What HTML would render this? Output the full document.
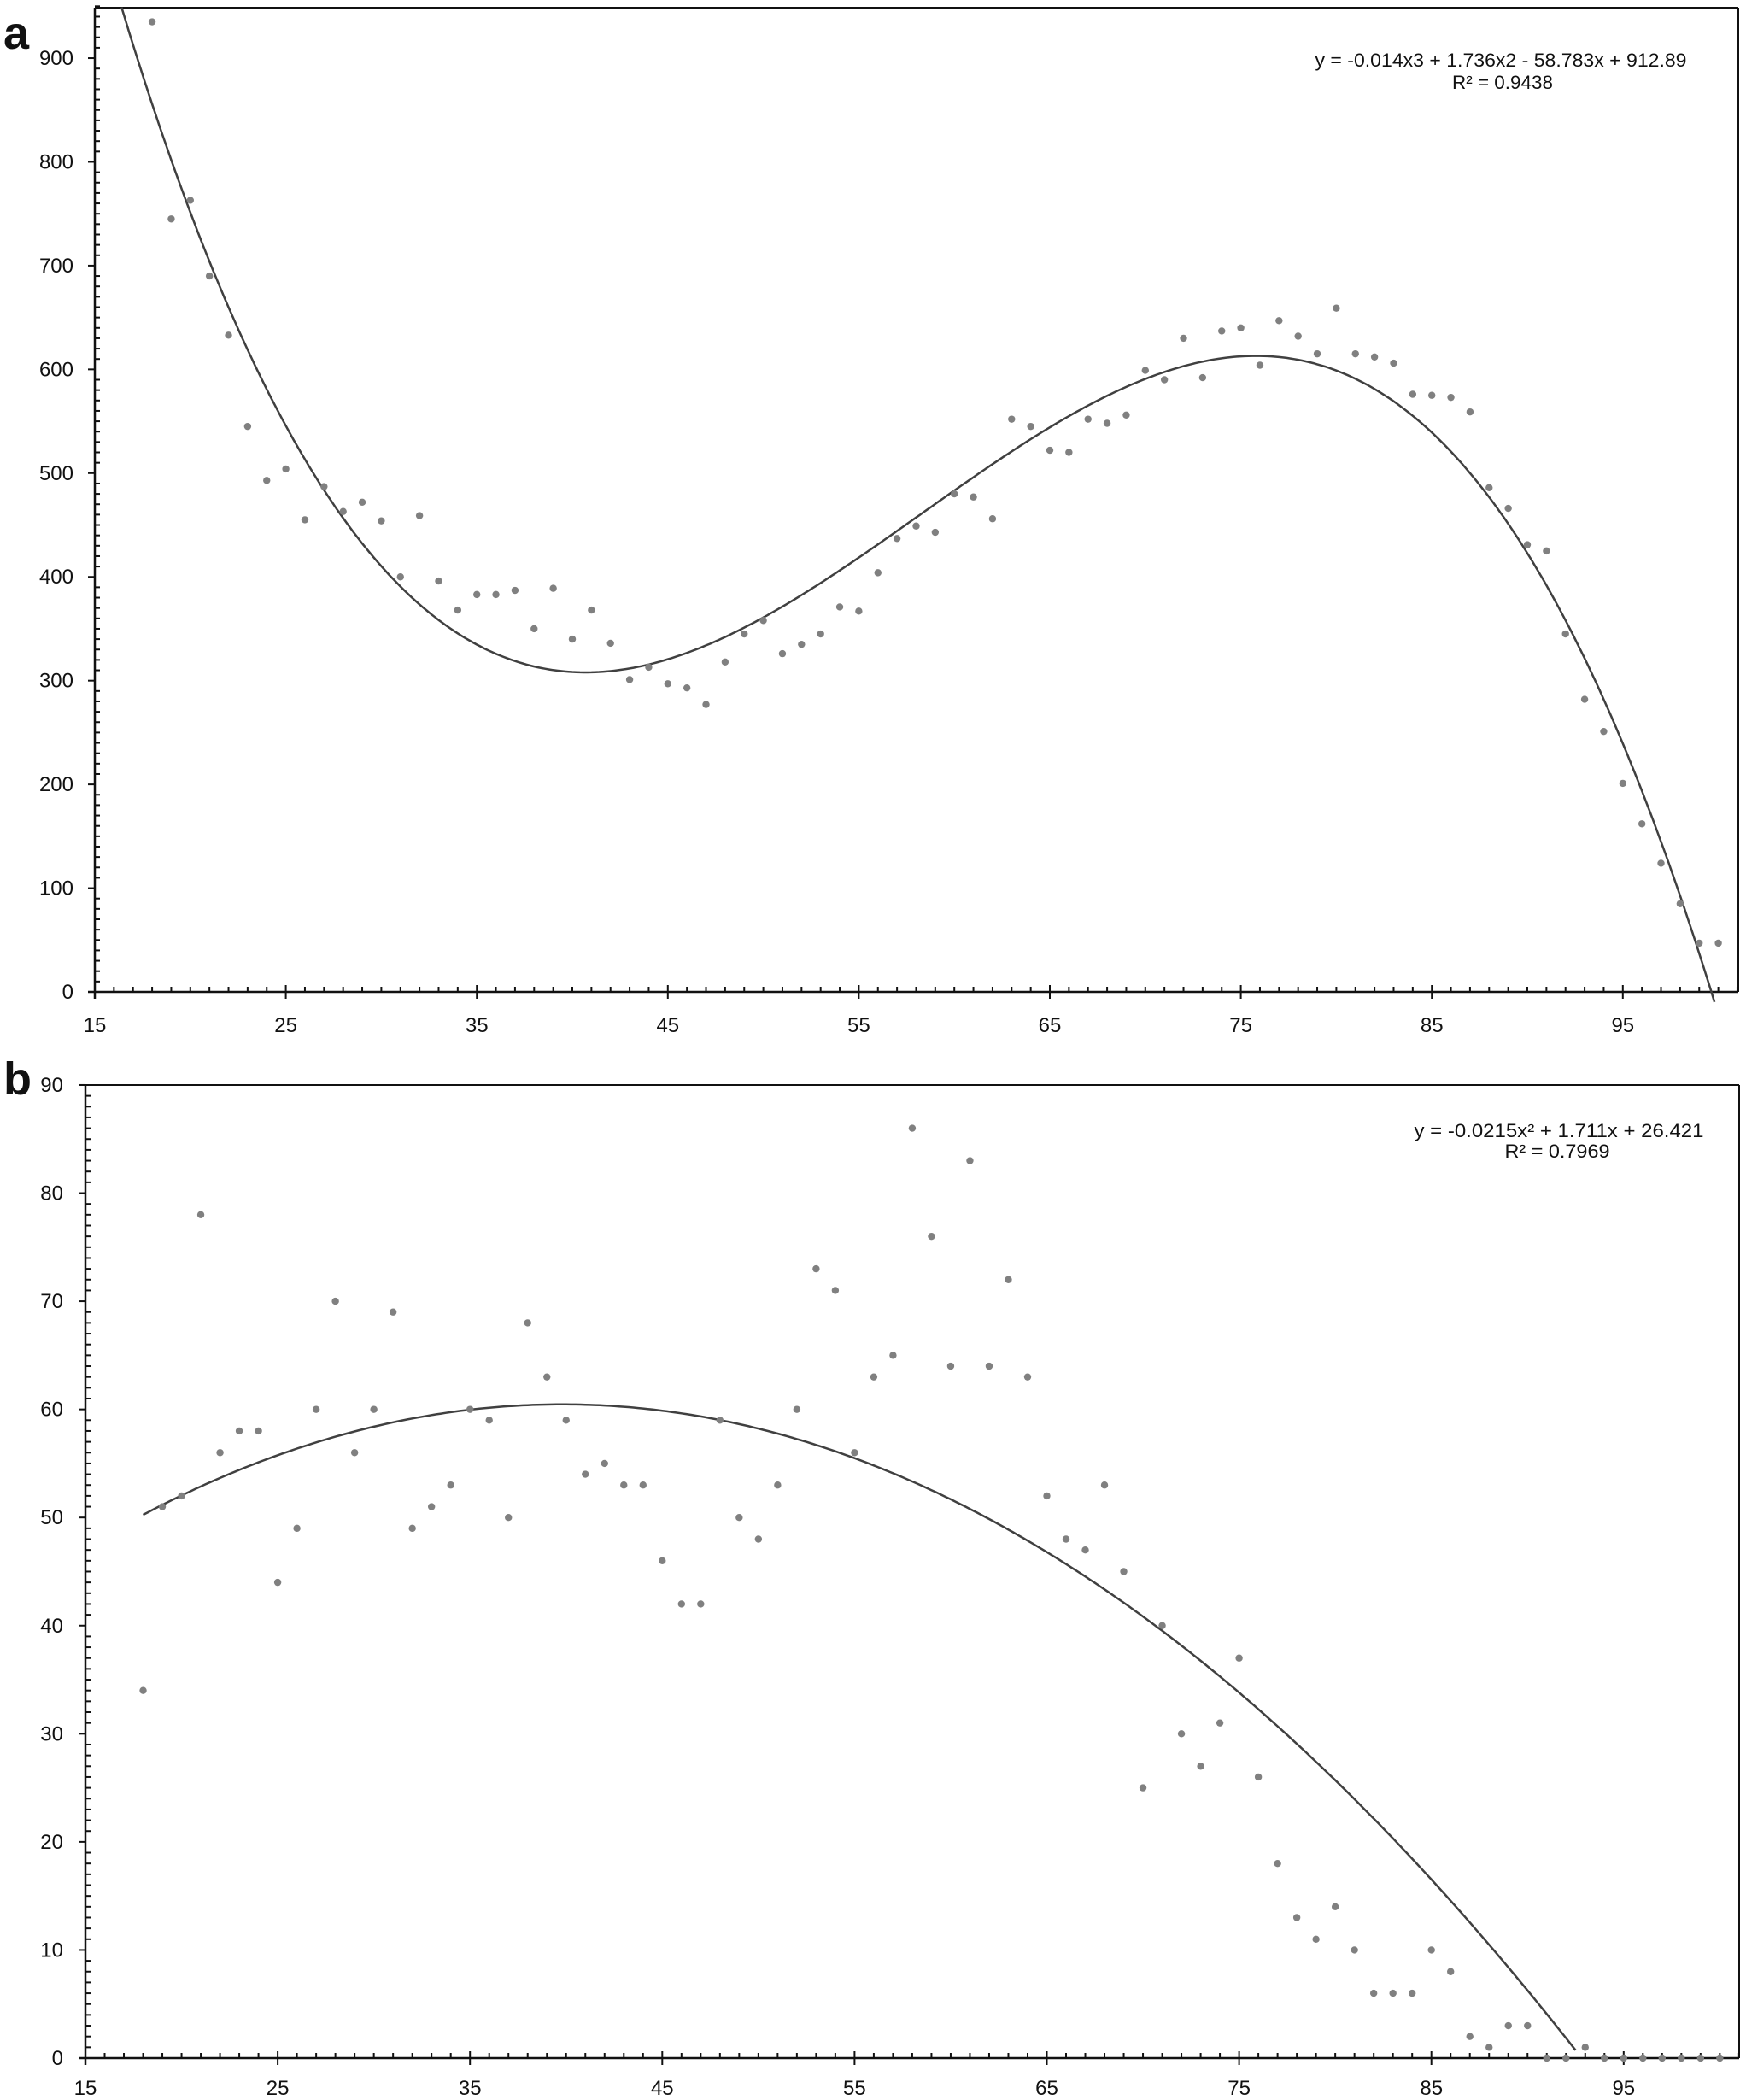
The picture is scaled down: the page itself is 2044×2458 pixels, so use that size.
<!DOCTYPE html>
<html><head><meta charset="utf-8"><style>
html,body{margin:0;padding:0;background:#fff;}
svg{display:block;font-family:"Liberation Sans",sans-serif;}
</style></head><body>
<svg id="s" width="2044" height="2458" viewBox="0 0 2044 2458" xmlns="http://www.w3.org/2000/svg">
<text x="4" y="57" font-size="54" font-weight="bold" fill="#111">a</text>
<text x="4" y="1281" font-size="54" font-weight="bold" fill="#111">b</text>
<text x="1757" y="78" font-size="22" text-anchor="middle" textLength="435" lengthAdjust="spacingAndGlyphs" fill="#111">y = -0.014x3 + 1.736x2 - 58.783x + 912.89</text>
<text x="1759" y="104" font-size="22" text-anchor="middle" textLength="118" lengthAdjust="spacingAndGlyphs" fill="#111">R² = 0.9438</text>
<text x="1825" y="1331" font-size="22" text-anchor="middle" textLength="339" lengthAdjust="spacingAndGlyphs" fill="#111">y = -0.0215x² + 1.711x + 26.421</text>
<text x="1823" y="1355" font-size="22" text-anchor="middle" textLength="123" lengthAdjust="spacingAndGlyphs" fill="#111">R² = 0.7969</text>
</svg>
<script>
var s=document.getElementById('s'),NS='http://www.w3.org/2000/svg';
function el(t,a,txt){var e=document.createElementNS(NS,t);for(var k in a)e.setAttribute(k,a[k]);if(txt!=null)e.textContent=txt;s.appendChild(e);return e;}
function line(x1,y1,x2,y2,w){el('line',{x1:x1,y1:y1,x2:x2,y2:y2,stroke:'#111','stroke-width':w||2});}
var ax=function(x){return 111+(x-15)*22.36},ay=function(v){return 1161-v*1.2144};
var A=[935,745,763,690,633,545,493,504,455,487,463,472,454,400,459,396,368,383,383,387,350,389,340,368,336,301,313,297,293,277,318,345,358,326,335,345,371,367,404,437,449,443,480,477,456,552,545,522,520,552,548,556,599,590,630,592,637,640,604,647,632,615,659,615,612,606,576,575,573,559,486,466,431,425,345,282,251,201,162,124,85,47,47];
line(111,9,2035,9);line(2035,9,2035,1161);line(111,9,111,1169,2.5);line(103,1161,2035,1161,2.5);
for(var v=0;v<=950;v+=10){var y=ay(v);if(v%100==0){line(103,y,111,y);el('text',{x:86,y:y+8,'font-size':24,'text-anchor':'end',fill:'#111'},v);}else line(111,y,117,y);}
for(var x=15;x<=101;x++){var X=ax(x);if((x-15)%10==0){line(X,1153,X,1169);el('text',{x:X,y:1208,'font-size':24,'text-anchor':'middle',fill:'#111'},x);}else line(X,1161,X,1155);}
var k=-0.04232,a0=40.7,b0=75.8;
function F(x){return k*(x*x*x/3-(a0+b0)*x*x/2+a0*b0*x);}
var d='';for(var x=16.4;x<=99.85;x+=0.2){var yv=308+F(x)-F(a0);d+=(d?'L':'M')+ax(x).toFixed(1)+','+ay(yv).toFixed(1);}
el('path',{d:d,fill:'none',stroke:'#404040','stroke-width':2.5});
A.forEach(function(v,i){el('circle',{cx:ax(18+i),cy:ay(v),r:4.2,fill:'#808080'});});
var bx=function(x){return 100+(x-15)*22.51},by=function(v){return 2409-v*12.656};
var B=[34,51,52,78,56,58,58,44,49,60,70,56,60,69,49,51,53,60,59,50,68,63,59,54,55,53,53,46,42,42,59,50,48,53,60,73,71,56,63,65,86,76,64,83,64,72,63,52,48,47,53,45,25,40,30,27,31,37,26,18,13,11,14,10,6,6,6,10,8,2,1,3,3,0,0,1,0,0,0,0,0,0,0];
line(92,1270,2036,1270);line(2036,1270,2036,2409);line(100,1270,100,2417,2.5);line(92,2409,2036,2409,2.5);
for(var v=0;v<=90;v++){var y=by(v);if(v%10==0){line(92,y,100,y);el('text',{x:74,y:y+8,'font-size':24,'text-anchor':'end',fill:'#111'},v);}else line(100,y,106,y);}
for(var x=15;x<=101;x++){var X=bx(x);if((x-15)%10==0){line(X,2401,X,2417);el('text',{x:X,y:2452,'font-size':24,'text-anchor':'middle',fill:'#111'},x);}else line(X,2409,X,2403);}
d='';for(var x=18;x<=92.5;x+=0.25){var yv=-0.0215*x*x+1.711*x+26.421;if(yv<0)yv=0;d+=(d?'L':'M')+bx(x).toFixed(1)+','+by(yv).toFixed(1);}
el('path',{d:d,fill:'none',stroke:'#404040','stroke-width':2.5});
B.forEach(function(v,i){el('circle',{cx:bx(18+i),cy:by(v),r:4.2,fill:'#808080'});});
</script>
</body></html>
